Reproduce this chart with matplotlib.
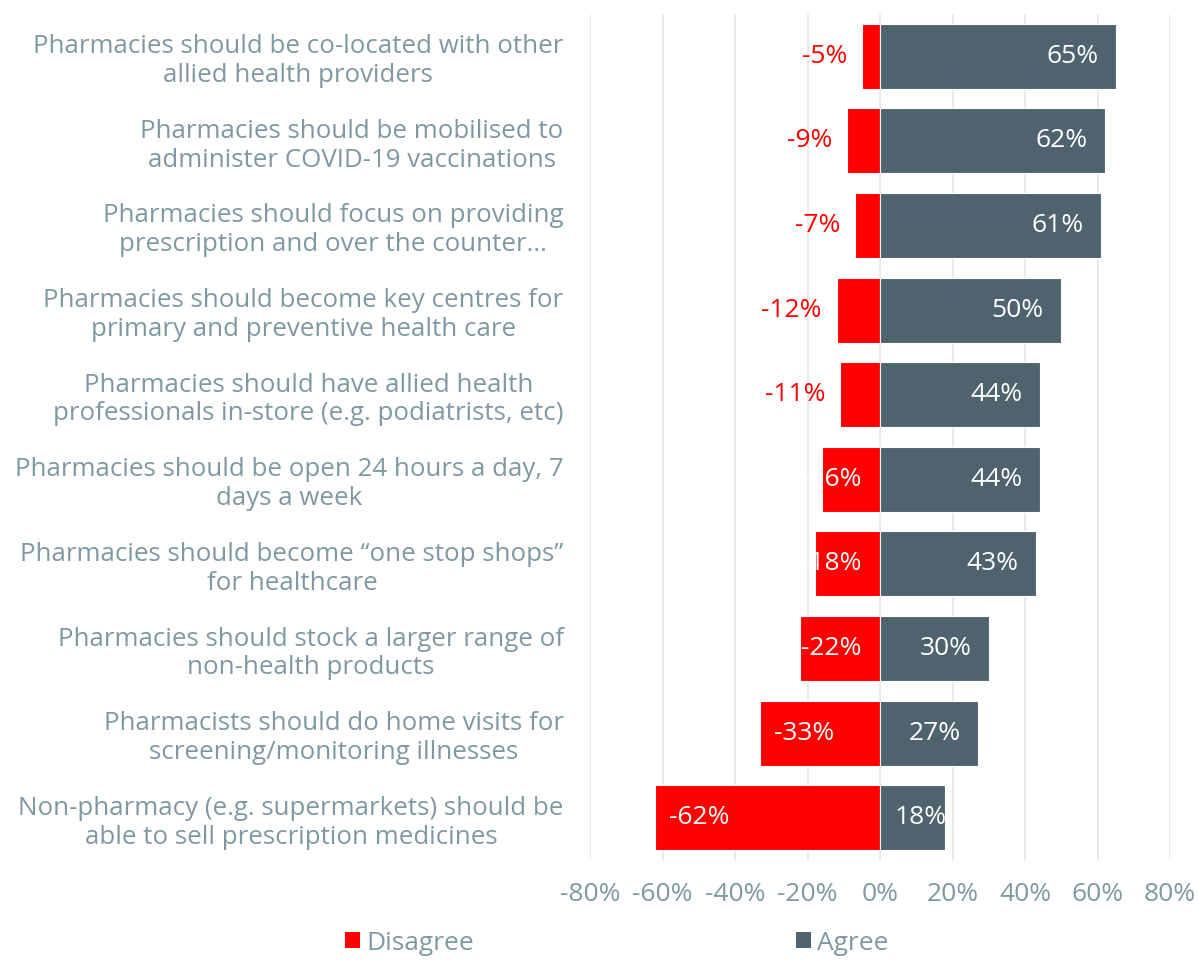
import matplotlib
matplotlib.use("Agg")
import matplotlib.pyplot as plt
from matplotlib.patches import Patch
from matplotlib.ticker import FixedLocator, FuncFormatter

statements = [
    "Pharmacies should be co-located with other\nallied health providers",
    "Pharmacies should be mobilised to\nadminister COVID-19 vaccinations",
    "Pharmacies should focus on providing\nprescription and over the counter...",
    "Pharmacies should become key centres for\nprimary and preventive health care",
    "Pharmacies should have allied health\nprofessionals in-store (e.g. podiatrists, etc)",
    "Pharmacies should be open 24 hours a day, 7\ndays a week",
    "Pharmacies should become \u201cone stop shops\u201d\nfor healthcare",
    "Pharmacies should stock a larger range of\nnon-health products",
    "Pharmacists should do home visits for\nscreening/monitoring illnesses",
    "Non-pharmacy (e.g. supermarkets) should be\nable to sell prescription medicines",
]
disagree = [-5, -9, -7, -12, -11, -16, -18, -22, -33, -62]
agree = [65, 62, 61, 50, 44, 44, 43, 30, 27, 18]
x_ticks = [-80, -60, -40, -20, 0, 20, 40, 60, 80]

RED = "#ff0000"
SLATE = "#4e636e"
TEXT = "#7f98a3"
GRID = "#e3e8ec"
FONT = "Open Sans"

plt.rcParams["font.family"] = [FONT, "DejaVu Sans"]

fig = plt.figure(figsize=(11.98, 9.6), dpi=100)
ax = fig.add_axes([590 / 1198, 1 - 860 / 960, 580 / 1198, 846 / 960])

ypos = list(range(len(statements)))
bar_h = 0.77
ax.barh(ypos, disagree, height=bar_h, color=RED, edgecolor="white", linewidth=0.8, zorder=3)
ax.barh(ypos, agree, height=bar_h, color=SLATE, edgecolor="white", linewidth=0.8, zorder=3)

ax.set_xlim(-80, 80)
ax.set_ylim(len(statements) - 0.5, -0.5)
ax.xaxis.set_major_locator(FixedLocator(x_ticks))
ax.xaxis.set_major_formatter(FuncFormatter(lambda v, p: f"{int(v)}%"))
ax.set_yticks(ypos)
ax.set_yticklabels(statements, multialignment="center", linespacing=1.2)
ax.tick_params(axis="x", length=0, pad=16, labelsize=19, labelcolor=TEXT)
ax.tick_params(axis="y", length=0, pad=19, labelsize=18.6, labelcolor=TEXT)
for s in ax.spines.values():
    s.set_visible(False)
ax.grid(axis="x", color=GRID, linewidth=1.2, zorder=0)
ax.set_axisbelow(True)

lab_fs = 19
for y, d, a in zip(ypos, disagree, agree):
    # disagree labels: outside in red for short bars, inside in white otherwise
    if d > -14:
        ax.text(d - 4, y, f"{d}%", ha="right", va="center", color=RED,
                fontsize=lab_fs, zorder=4)
    else:
        ax.text(min(d + 20.5, -5), y, f"{d}%", ha="right", va="center",
                color="white", fontsize=lab_fs, zorder=4)
    ax.text(max(a - 4.8, 18.5), y, f"{a}%", ha="right", va="center",
            color="white", fontsize=lab_fs, zorder=4)

handles = [Patch(facecolor=RED, label="Disagree"), Patch(facecolor=SLATE, label="Agree")]
leg = fig.legend(handles=handles, loc="center", bbox_to_anchor=(617 / 1198, 1 - 943 / 960),
                 ncol=2, frameon=False, fontsize=19, handlelength=0.55, handleheight=0.55,
                 handletextpad=0.25, columnspacing=12.2, borderpad=0.1)
for t in leg.get_texts():
    t.set_color(TEXT)

fig.savefig("out.png", dpi=100)
